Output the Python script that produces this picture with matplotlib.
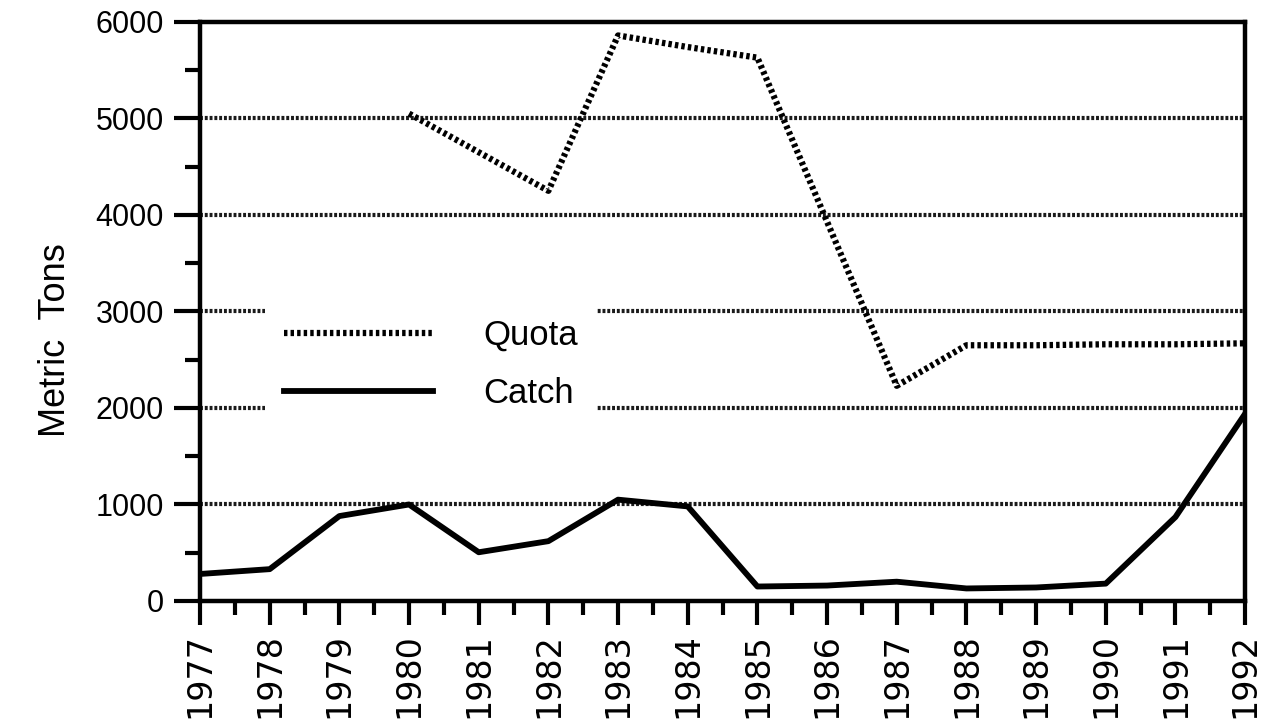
import matplotlib
matplotlib.use("Agg")
import matplotlib.pyplot as plt
from matplotlib.ticker import MultipleLocator

years = list(range(1977, 1993))
quota_years = [1980, 1981, 1982, 1983, 1984, 1985, 1986, 1987, 1988, 1989, 1990, 1991, 1992]
quota = [5050, 4650, 4250, 5860, 5740, 5630, 3930, 2230, 2650, 2650, 2660, 2660, 2670]
catch = [280, 330, 880, 1000, 505, 620, 1050, 980, 150, 160, 200, 130, 140, 180, 870, 1940]
grid_levels = [1000, 2000, 3000, 4000, 5000]
y_ticks = [0, 1000, 2000, 3000, 4000, 5000, 6000]

plt.rcParams['font.family'] = ['Liberation Sans', 'DejaVu Sans']

fig = plt.figure(figsize=(12.66, 7.22), dpi=100)
ax = fig.add_axes([0.158, 0.1676, 0.8255, 0.802])

for g in grid_levels:
    ax.axhline(g, color='#1a1a1a', lw=3.0, ls=(0, (0.7, 0.45)), zorder=1)

ax.plot(quota_years, quota, color='black', lw=4.5, ls=(0, (0.55, 0.5)), label='Quota', zorder=3)
ax.plot(years, catch, color='black', lw=4.2, ls='-', label='Catch', zorder=3)

ax.set_xlim(1977, 1992)
ax.set_ylim(0, 6000)
ax.set_xticks(years)
ax.set_xticklabels([str(y) for y in years], rotation=90, fontsize=24)
ax.set_yticks(y_ticks)
ax.set_yticklabels([str(v) for v in y_ticks], fontsize=22)
for t in ax.get_xticklabels():
    t.set_fontfamily(['DejaVu Sans'])
ax.xaxis.set_minor_locator(MultipleLocator(0.5))
ax.yaxis.set_minor_locator(MultipleLocator(500))
ax.tick_params(axis='y', which='major', direction='out', length=19, width=3, pad=7)
ax.tick_params(axis='y', which='minor', direction='out', length=11, width=3)
ax.tick_params(axis='x', which='major', direction='out', length=17, width=3, pad=6)
ax.tick_params(axis='x', which='minor', direction='out', length=10, width=3)
for s in ax.spines.values():
    s.set_linewidth(3.2)

ax.set_ylabel('Metric  Tons', fontsize=26, ha='center', va='center')
ax.yaxis.set_label_coords(-0.1387, 0.4508)

leg = ax.legend(loc='upper left', bbox_to_anchor=(0.062, 0.52), fontsize=25,
                frameon=True, facecolor='white', edgecolor='none', framealpha=1,
                fancybox=False, handlelength=4.3, handletextpad=1.45,
                labelspacing=0.72, borderpad=0.55, borderaxespad=0)
leg.set_zorder(5)

fig.savefig('out.png', dpi=100)
